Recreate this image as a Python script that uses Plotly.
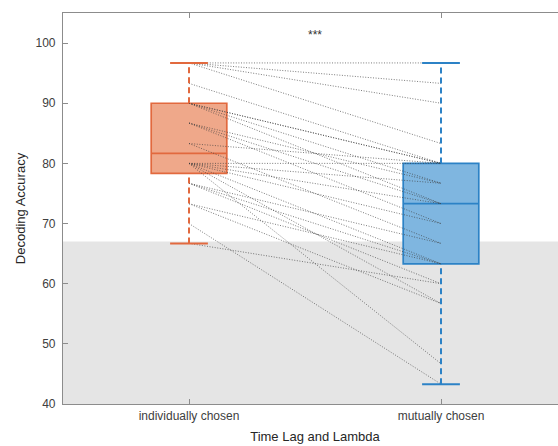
import numpy as np
import plotly.graph_objects as go

categories = ["individually chosen", "mutually chosen"]
individual = [96.7, 96.7, 96.7, 96.7, 93.3, 90.0, 90.0, 90.0, 90.0, 86.7, 86.7, 86.7,
              83.3, 83.3, 80.0, 80.0, 80.0, 80.0, 80.0, 80.0, 80.0, 76.7, 76.7, 76.7,
              73.3, 73.3, 70.0, 66.7]
mutual = [96.7, 93.3, 90.0, 83.3, 80.0, 80.0, 76.7, 73.3, 80.0, 76.7, 73.3, 70.0,
          80.0, 66.7, 80.0, 76.7, 73.3, 70.0, 63.3, 56.7, 46.7, 66.7, 63.3, 60.0,
          56.7, 63.3, 43.3, 60.0]
chance_level = 67.0
significance = "***"

fill_colors = ["#EFA88A", "#7FB6E0"]
edge_colors = ["#E2693E", "#2C82C6"]
xpos = [1, 2]
box_w = 0.3

def stats(v):
    s = np.sort(np.array(v, dtype=float))
    n = len(s)
    lo, hi = s[: n // 2], s[(n + 1) // 2:]
    return dict(q1=float(np.median(lo)), med=float(np.median(s)), q3=float(np.median(hi)),
                mn=float(s.min()), mx=float(s.max()))

fig = go.Figure()

# chance region
fig.add_shape(type="rect", xref="paper", yref="y", x0=0, x1=1, y0=40, y1=chance_level,
              fillcolor="#E5E5E5", line_width=0, layer="below")

# paired lines
for a, b in zip(individual, mutual):
    fig.add_trace(go.Scatter(x=[xpos[0], xpos[1]], y=[a, b], mode="lines",
                             line=dict(color="rgba(60,60,60,0.75)", width=0.9, dash="1px,1.6px"),
                             hoverinfo="skip", showlegend=False))

for i, data in enumerate([individual, mutual]):
    st = stats(data)
    x = xpos[i]
    # whiskers (dashed)
    for y0, y1 in [(st["q3"], st["mx"]), (st["mn"], st["q1"])]:
        fig.add_trace(go.Scatter(x=[x, x], y=[y0, y1], mode="lines",
                                 line=dict(color=edge_colors[i], width=2, dash="6px,4px"),
                                 hoverinfo="skip", showlegend=False))
    # caps
    for yc in [st["mn"], st["mx"]]:
        fig.add_trace(go.Scatter(x=[x - box_w / 4, x + box_w / 4], y=[yc, yc], mode="lines",
                                 line=dict(color=edge_colors[i], width=2),
                                 hoverinfo="skip", showlegend=False))
    fig.add_trace(go.Box(x=[x], q1=[st["q1"]], median=[st["med"]], q3=[st["q3"]],
                         lowerfence=[st["q1"]], upperfence=[st["q3"]],
                         width=box_w, fillcolor=fill_colors[i],
                         line=dict(color=edge_colors[i], width=1.7),
                         whiskerwidth=0, boxpoints=False, showlegend=False))

fig.add_annotation(x=1.5, y=101.4, text=significance, showarrow=False,
                   font=dict(size=12, color="#333333", family="Liberation Sans"))

fig.update_layout(
    width=567, height=446,
    margin=dict(l=63, r=0, t=13, b=42),
    paper_bgcolor="white", plot_bgcolor="rgba(0,0,0,0)",
    font=dict(family="Liberation Sans", size=12, color="#404040"),
)
fig.update_xaxes(range=[0.5, 2.5], tickvals=xpos, ticktext=categories,
                 showgrid=False, zeroline=False, showline=True, linecolor="#8C8C8C",
                 linewidth=1.2, mirror="ticks", ticks="inside", ticklen=5, tickcolor="#8C8C8C",
                 tickfont=dict(size=12, color="#404040"),
                 title=dict(text="Time Lag and Lambda", font=dict(size=13, color="#262626"),
                            standoff=10))
fig.update_yaxes(range=[40, 105], tickvals=[40, 50, 60, 70, 80, 90, 100],
                 showgrid=False, zeroline=False, showline=True, linecolor="#8C8C8C",
                 linewidth=1.2, ticks="inside", ticklen=5, tickcolor="#8C8C8C",
                 tickfont=dict(size=12, color="#404040"), ticklabelstandoff=4,
                 title=dict(text="Decoding Accuracy", font=dict(size=13, color="#262626"),
                            standoff=6))

fig.write_html("out.html", config={"displayModeBar": False},
               post_script=("document.documentElement.style.overflow='hidden';"
                            "document.body.style.margin='0';"
                            "document.body.style.overflow='hidden';"))
